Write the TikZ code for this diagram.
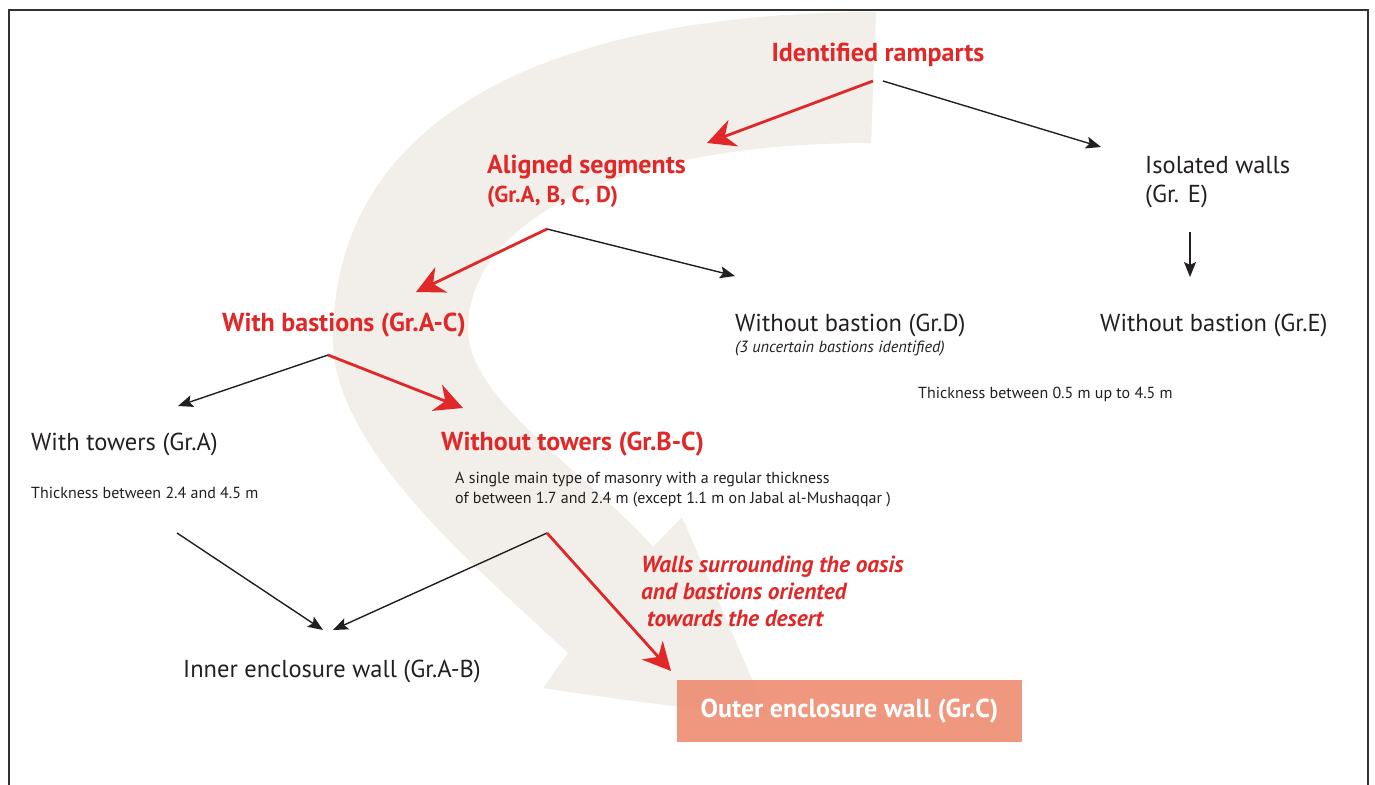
\documentclass[tikz,border=0pt]{standalone}
\usepackage{fontspec}
\setmainfont{PT Sans}
\usetikzlibrary{arrows.meta}
\definecolor{myred}{RGB}{224,40,40}
\definecolor{beige}{RGB}{242,239,234}
\definecolor{salmon}{RGB}{238,140,114}
\definecolor{framec}{RGB}{50,50,50}
\definecolor{txt}{RGB}{35,31,32}
\begin{document}
\begin{tikzpicture}[x=1pt,y=-1pt,
  redlbl/.style={anchor=base west, inner sep=0pt, text=myred, font=\fontsize{26}{29}\selectfont\bfseries, align=left},
  blklbl/.style={anchor=base west, inner sep=0pt, text=txt, font=\fontsize{24.5}{29}\selectfont, align=left},
  smalllbl/.style={anchor=base west, inner sep=0pt, text=txt, font=\fontsize{16}{20}\selectfont, align=left},
  italbl/.style={anchor=base west, inner sep=0pt, text=txt, font=\fontsize{16.3}{19}\selectfont\itshape},
  reditlbl/.style={anchor=base west, inner sep=0pt, text=myred, font=\fontsize{23.3}{27}\selectfont\bfseries\itshape, align=left},
  redarrow/.style={draw=myred, line width=2.8pt, -{Stealth[length=28pt,width=28pt,inset=9pt]}},
  blkarrow/.style={draw=txt, line width=1.4pt, -{Stealth[length=15pt,width=12pt,inset=3pt]}}]
\useasboundingbox (0,0) rectangle (1375,784);
\clip (0,0) rectangle (1375,784);

% background curved arrow
\fill[beige] (876,12)
  .. controls (600,12) and (333,90) .. (333,340)
  .. controls (333,450) and (480,570) .. (568,653)
  -- (543,688)
  .. controls (620,700) and (700,710) .. (768,716)
  -- (682,517) -- (653,547)
  .. controls (590,475) and (468,400) .. (468,330)
  .. controls (468,210) and (640,143) .. (871,143)
  -- cycle;

% frame
\draw[framec, line width=2.2pt] (9,800) -- (9,10) -- (1368,10) -- (1368,800);

% nodes (base anchor of a multi-line node = last line's baseline)
\node[redlbl, anchor=base] (ir) at (878,62) {Identified ramparts};
\node[redlbl] (as) at (487,202) {Aligned segments\\{\fontsize{23}{29}\selectfont (Gr.A, B, C, D)}};
\node[blklbl] (iw) at (1145,202) {Isolated walls\\(Gr. E)};
\node[redlbl] (wb) at (222,331) {With bastions (Gr.A-C)};
\node[blklbl] (wobd) at (735,331) {Without bastion (Gr.D)};
\node[italbl] (unc) at (735,352) {(3 uncertain bastions identified)};
\node[blklbl] (wobe) at (1100,331) {Without bastion (Gr.E)};
\node[smalllbl] (th05) at (918,398) {Thickness between 0.5 m up to 4.5 m};
\node[blklbl] (wt) at (31,450) {With towers (Gr.A)};
\node[redlbl] (wot) at (441,450) {Without towers (Gr.B-C)};
\node[smalllbl] (th24) at (31,498) {Thickness between 2.4 and 4.5 m};
\node[smalllbl] (mas) at (455,503) {A single main type of masonry with a regular thickness\\of between 1.7 and 2.4 m (except 1.1 m on Jabal al-Mushaqqar )};
\node[reditlbl] (ws) at (641,626) {Walls surrounding the oasis\\and bastions oriented\\\ towards the desert};
\node[blklbl] (ie) at (183,677) {Inner enclosure wall (Gr.A-B)};
\node[fill=salmon, fill opacity=0.9, text opacity=1, text=white, minimum width=345pt, minimum height=62pt, inner sep=0pt, font=\fontsize{26}{29}\selectfont\bfseries] (oe) at (849.5,711) {Outer enclosure wall (Gr.C)};

% connector coordinates
\coordinate (ir-l) at (873,81);
\coordinate (ir-r) at (883,81);
\coordinate (as-in) at (707,143);
\coordinate (iw-in) at (1101,147);
\coordinate (as-out) at (547,229);
\coordinate (wb-in) at (416,292);
\coordinate (wobd-in) at (735,276);
\coordinate (iw-out) at (1190,232);
\coordinate (wobe-in) at (1190,277);
\coordinate (wb-out) at (328,355);
\coordinate (wt-in) at (178,406);
\coordinate (wot-in) at (463,408);
\coordinate (wt-out) at (177,533);
\coordinate (wot-out) at (547,533);
\coordinate (ie-in1) at (323,630);
\coordinate (ie-in2) at (333,630);
\coordinate (oe-in) at (671,671);

% connectors
\draw[redarrow] (ir-l) -- (as-in);
\draw[blkarrow] (ir-r) -- (iw-in);
\draw[redarrow] (as-out) -- (wb-in);
\draw[blkarrow] (as-out) -- (wobd-in);
\draw[blkarrow] (iw-out) -- (wobe-in);
\draw[blkarrow] (wb-out) -- (wt-in);
\draw[redarrow] (wb-out) -- (wot-in);
\draw[blkarrow] (wt-out) -- (ie-in1);
\draw[blkarrow] (wot-out) -- (ie-in2);
\draw[redarrow] (wot-out) -- (oe-in);
\end{tikzpicture}
\end{document}
